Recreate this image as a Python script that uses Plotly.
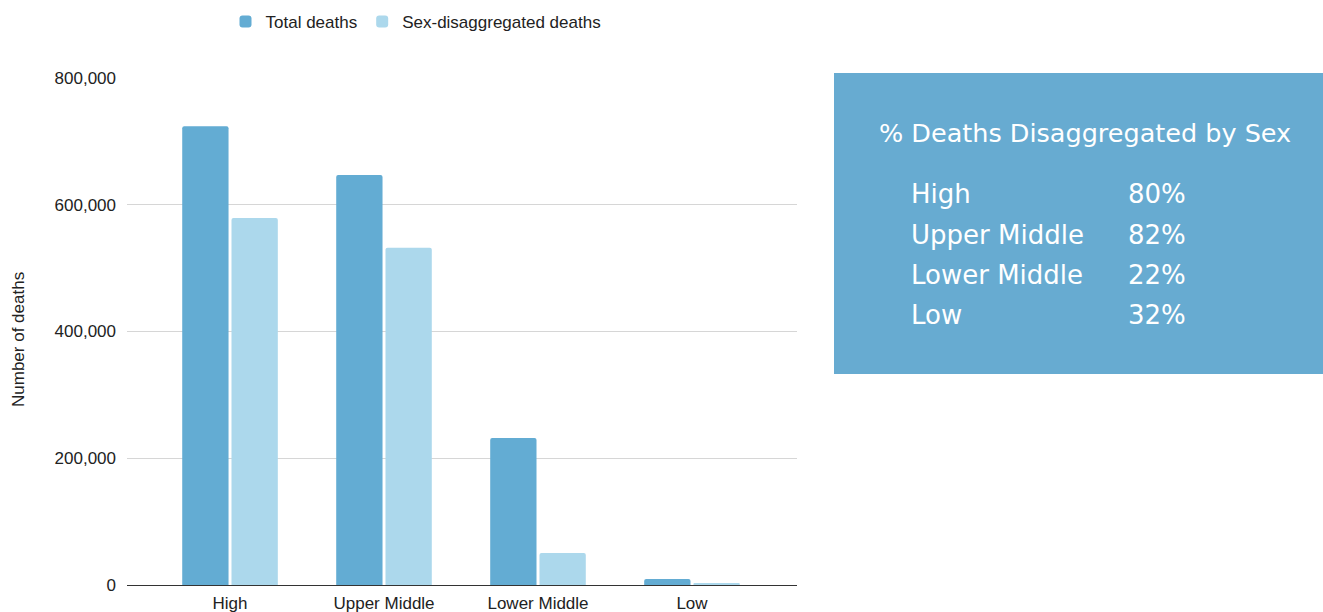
import plotly.graph_objects as go

W, H = 1323, 612

categories = ["High", "Upper Middle", "Lower Middle", "Low"]
total_deaths = [724000, 647000, 232000, 9500]
sex_disagg_deaths = [579000, 532000, 50500, 3000]
panel_title = "% Deaths Disaggregated by Sex"
panel_labels = ["High", "Upper Middle", "Lower Middle", "Low"]
panel_values = ["80%", "82%", "22%", "32%"]
y_ticks = [0, 200000, 400000, 600000, 800000]

C_TOTAL = "#63acd3"
C_SEX = "#acd8ec"
C_PANEL = "#67abd1"

fig = go.Figure()
fig.add_trace(go.Bar(x=categories, y=total_deaths, name="Total deaths",
                     marker=dict(color=C_TOTAL, line=dict(width=0))))
fig.add_trace(go.Bar(x=categories, y=sex_disagg_deaths, name="Sex-disaggregated deaths",
                     marker=dict(color=C_SEX, line=dict(width=0))))

def px(x):
    return x / W

def py(y):
    return 1 - y / H

FAM = "Liberation Sans, Arial, sans-serif"
font_axis = dict(family=FAM, size=17, color="#222222")

fig.update_layout(
    width=W, height=H,
    margin=dict(l=0, r=0, t=0, b=0),
    paper_bgcolor="white", plot_bgcolor="white",
    barmode="group", bargap=0.36, bargroupgap=0.06,
    barcornerradius=2,
    font=font_axis,
    showlegend=True,
    legend=dict(orientation="h", x=px(416), xanchor="center", y=py(22), yanchor="middle",
                font=dict(family=FAM, size=17, color="#222222"),
                itemsizing="constant", traceorder="normal"),
    xaxis=dict(domain=[px(127), px(797)], range=[-0.669, 3.682], automargin=False,
               showline=True, linecolor="#333333", linewidth=1.2, ticks="",
               ticklabelstandoff=2,
               showgrid=False, tickfont=font_axis, fixedrange=True),
    yaxis=dict(domain=[py(585), py(78)], range=[0, 800000], automargin=False,
               tickvals=y_ticks, tickformat=",d", showgrid=True, gridcolor="#d6d6d6",
               gridwidth=1, zeroline=True, zerolinecolor="#333333", zerolinewidth=1.2,
               ticks="", ticklabelstandoff=10, tickfont=font_axis, showline=False),
)

fig.add_annotation(text="Number of deaths", textangle=-90, xref="paper", yref="paper",
                   x=px(18), y=py(340), xanchor="center", yanchor="middle", showarrow=False,
                   font=dict(family=FAM, size=17, color="#222222"))

# side panel
fig.add_shape(type="rect", xref="paper", yref="paper",
              x0=px(834), x1=1.0, y0=py(374), y1=py(73),
              fillcolor=C_PANEL, line=dict(width=0), layer="below")

panel_font_family = "DejaVu Sans, Open Sans, sans-serif"
fig.add_annotation(text=panel_title, xref="paper", yref="paper",
                   x=px(877), y=py(133), xanchor="left", yanchor="middle", showarrow=False,
                   font=dict(family=panel_font_family, size=25.5, color="white"))

row_y = [194, 235, 275, 315]
for lab, val, yy in zip(panel_labels, panel_values, row_y):
    fig.add_annotation(text=lab, xref="paper", yref="paper", x=px(909), y=py(yy),
                       xanchor="left", yanchor="middle", showarrow=False,
                       font=dict(family=panel_font_family, size=26, color="white"))
    fig.add_annotation(text=val, xref="paper", yref="paper", x=px(1126), y=py(yy),
                       xanchor="left", yanchor="middle", showarrow=False,
                       font=dict(family=panel_font_family, size=26, color="white"))

fig.write_html("out.html", config={"displayModeBar": False})
